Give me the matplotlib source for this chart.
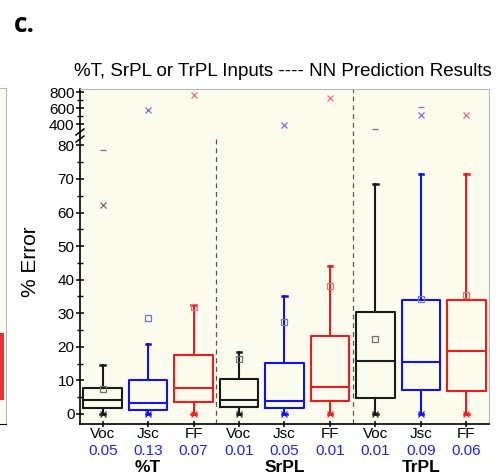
import matplotlib.pyplot as plt
import matplotlib.transforms as mtransforms
import numpy as np

plt.rcParams['font.family'] = ['Liberation Sans', 'DejaVu Sans']

# data
labels = ['Voc', 'Jsc', 'FF'] * 3
r2 = ['0.05', '0.13', '0.07', '0.01', '0.05', '0.01', '0.01', '0.09', '0.06']
groups = ['%T', 'SrPL', 'TrPL']
q1 = [1.7, 1.2, 3.7, 2.0, 1.7, 3.8, 4.8, 7.2, 6.8]
med = [4.1, 3.4, 7.7, 4.2, 3.9, 8.0, 15.8, 15.4, 18.7]
q3 = [7.8, 10.0, 17.5, 10.4, 15.1, 23.2, 30.4, 34.0, 34.0]
whi = [14.6, 20.9, 32.5, 18.4, 35.0, 44.2, 68.6, 71.6, 71.6]
wlo = [0, 0, 0, 0, 0, 0, 0, 0, 0]
mean = [7.5, 28.6, 32.0, 16.3, 27.4, 38.2, 22.3, 34.2, 35.4]
p99 = [62.3, 575, 759, np.nan, 387, 729, np.nan, 512, 512]
vmax = [78.5, np.nan, np.nan, np.nan, np.nan, np.nan, 337, 609, np.nan]
vmin = [0, 0, 0, 0, 0, 0, 0, 0, 0]

# fragment of the neighbouring panel on the far left
frag_bar = (0.07, 0.27)

cols = ['#1a1a1a', '#1010f0', '#f01a1a']
light = ['#707070', '#7070e8', '#e87070']
bg = '#fcfcee'

W, H = 497, 475
fig = plt.figure(figsize=(W / 100, H / 100), dpi=100)

def fx(px):
    return px / W

def fy(px):
    return 1 - px / H

left, right = 80, 489
top, brk, bottom = 89, 136, 424
ax_hi = fig.add_axes([fx(left), fy(brk), fx(right - left), fy(top) - fy(brk)])
ax_lo = fig.add_axes([fx(left), fy(bottom), fx(right - left), fy(brk) - fy(bottom)])

pos = np.arange(1, 10)
stats = []
for i in range(9):
    stats.append(dict(med=med[i], q1=q1[i], q3=q3[i], whislo=wlo[i], whishi=whi[i],
                      mean=mean[i], fliers=[], label=labels[i]))

for ax in (ax_hi, ax_lo):
    ax.set_facecolor(bg)
    for i in range(9):
        c = cols[i % 3]
        ax.bxp([stats[i]], positions=[pos[i]], widths=0.85, showmeans=True,
               showfliers=False, capwidths=0.1,
               boxprops=dict(color=c, lw=1.5), medianprops=dict(color=c, lw=1.5),
               whiskerprops=dict(color=c, lw=1.5), capprops=dict(color=c, lw=1.8),
               meanprops=dict(marker='s', markersize=4, markerfacecolor='none',
                              markeredgecolor=light[i % 3], markeredgewidth=0.9))
        ax.plot(pos[i], p99[i], 'x', color=light[i % 3], ms=5, mew=0.9)
        ax.plot(pos[i], vmax[i], '_', color=light[i % 3], ms=5, mew=0.9)
        ax.plot(pos[i], vmin[i], 'x', color=cols[i % 3], ms=4.5, mew=0.8, clip_on=False)
        ax.plot(pos[i], vmin[i], '_', color=cols[i % 3], ms=4.5, mew=0.8, clip_on=False)
    ax.set_xlim(0.5, 9.5)
    ax.axvline(6.5, color='#555555', ls=(0, (4, 3)), lw=0.9)
    for s in ('top', 'right'):
        ax.spines[s].set_color('#b8b8b8')
    for s in ('left', 'bottom'):
        ax.spines[s].set_linewidth(1.2)
    ax.tick_params(axis='y', which='major', direction='inout', length=6, width=1.1,
                   labelsize=11, pad=1)
    ax.tick_params(axis='y', which='minor', direction='inout', length=4, width=1.0)

ax_lo.axvline(3.5, color='#555555', ls=(0, (4, 3)), lw=0.9)

ax_hi.set_ylim(250, 837.5)
ax_hi.set_yticks([400, 600, 800])
ax_hi.set_yticks([500, 700], minor=True)
ax_hi.set_xticks([])
ax_hi.spines['bottom'].set_visible(False)

ax_lo.set_ylim(-3, 82.8)
ax_lo.set_yticks(np.arange(0, 81, 10))
ax_lo.set_yticks(np.arange(5, 80, 10), minor=True)
ax_lo.spines['top'].set_visible(False)
ax_lo.set_xticks(pos)
ax_lo.set_xticklabels(labels, fontsize=11)
ax_lo.tick_params(axis='x', direction='inout', length=5, width=1.1, pad=0)

# blue R2 values and group names under the ticks
trans = mtransforms.blended_transform_factory(ax_lo.transData, fig.transFigure)
for i in range(9):
    ax_lo.text(pos[i], fy(451), r2[i], transform=trans, ha='center', va='center',
               fontsize=11, color='#2020ff')
for g in range(3):
    ax_lo.text(pos[g * 3 + 1], fy(467), groups[g], transform=trans, ha='center',
               va='center', fontsize=12.5, fontweight='bold')

# axis break marks
for yb in (132, 139):
    fig.add_artist(plt.Line2D([fx(left - 4), fx(left + 4)], [fy(yb + 3), fy(yb - 3)],
                              color='black', lw=1.1))

fig.text(fx(283), fy(72), '%T, SrPL or TrPL Inputs ---- NN Prediction Results',
         ha='center', va='center', fontsize=13.5)
fig.text(fx(31), fy(262), '% Error', rotation=90, ha='center', va='center', fontsize=15)
fig.text(fx(14), fy(25), 'c.', ha='left', va='center', fontsize=19, fontweight='bold',
         family=['Open Sans', 'DejaVu Sans'])

# sliver of the left panel
axf = fig.add_axes([0, fy(424), fx(6), fy(88) - fy(424)])
axf.set_facecolor(bg)
axf.set_xlim(0, 1)
axf.set_ylim(0, 1)
axf.bar(0, frag_bar[1] - frag_bar[0], bottom=frag_bar[0], width=1.2, color='#f03030')
axf.set_xticks([])
axf.set_yticks([])
axf.spines['left'].set_visible(False)
axf.spines['top'].set_color('#b8b8b8')
axf.spines['right'].set_color('#b8b8b8')

fig.savefig('out.png', dpi=100)
